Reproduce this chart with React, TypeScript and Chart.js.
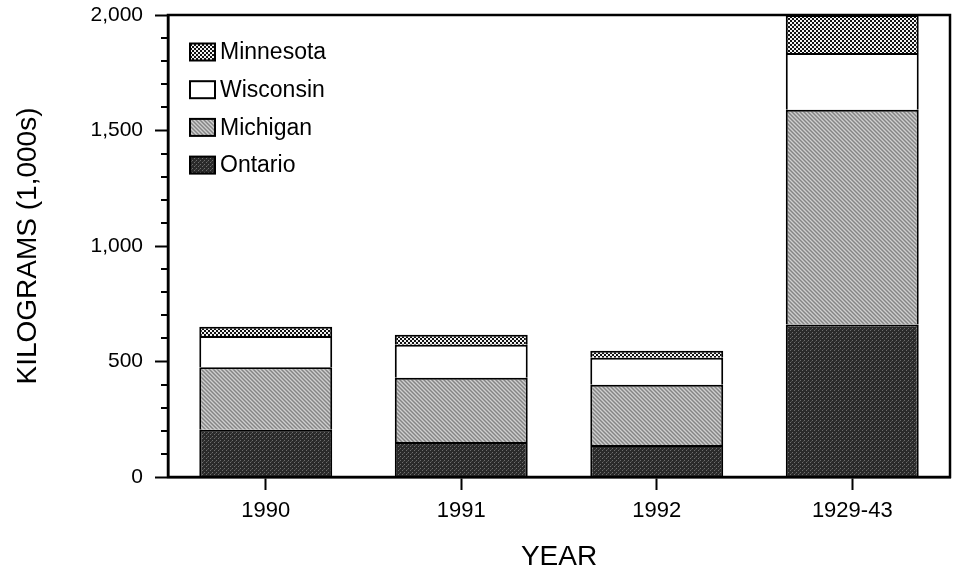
import React, { useEffect, useRef } from 'react';
import { Chart, registerables } from 'chart.js';

Chart.register(...registerables);

const categories = ['1990', '1991', '1992', '1929-43'];
const ontario = [205, 152, 139, 660];
const michigan = [270, 278, 260, 930];
const wisconsin = [135, 143, 117, 245];
const minnesota = [40, 43, 31, 165];
const seriesNames = ['Ontario', 'Michigan', 'Wisconsin', 'Minnesota'];
const yMin = 0;
const yMax = 2000;
const yMinorStep = 100;
const yMajorStep = 500;

const FONT = "'Liberation Sans', Arial, Helvetica, sans-serif";

function makePattern(kind: string): CanvasPattern | string {
  const c = document.createElement('canvas');
  c.width = 4;
  c.height = 4;
  const g = c.getContext('2d');
  if (!g) return '#888';
  const px = (x: number, y: number, col: string) => {
    g.fillStyle = col;
    g.fillRect(x, y, 1, 1);
  };
  if (kind === 'Minnesota') {
    g.fillStyle = '#111';
    g.fillRect(0, 0, 4, 4);
    for (let x = 0; x < 4; x++)
      for (let y = 0; y < 4; y++)
        if (((x >> 1) + (y >> 1)) % 2 === 0) px(x, y, '#f2f2f2');
  } else if (kind === 'Wisconsin') {
    g.fillStyle = '#ffffff';
    g.fillRect(0, 0, 4, 4);
  } else if (kind === 'Michigan') {
    g.fillStyle = '#a8a8a8';
    g.fillRect(0, 0, 4, 4);
    [[0, 0], [1, 1], [2, 2], [3, 3]].forEach(([x, y]) => px(x, y, '#858585'));
    [[2, 0], [3, 1], [0, 2], [1, 3]].forEach(([x, y]) => px(x, y, '#cfcfcf'));
  } else {
    g.fillStyle = '#2a2a2a';
    g.fillRect(0, 0, 4, 4);
    [[0, 0], [2, 2]].forEach(([x, y]) => px(x, y, '#6e6e6e'));
    [[3, 1]].forEach(([x, y]) => px(x, y, '#4a4a4a'));
  }
  const p = g.createPattern(c, 'repeat');
  return p || '#888';
}

export default function App() {
  const ref = useRef<HTMLCanvasElement | null>(null);

  useEffect(() => {
    const canvas = ref.current;
    if (!canvas) return;
    const seriesValues = [ontario, michigan, wisconsin, minnesota];
    const fills = seriesNames.map((n) => makePattern(n));

    const frame = {
      id: 'frame',
      afterDraw(chart: any) {
        const { ctx, chartArea } = chart;
        const ys = chart.scales.y;
        ctx.save();
        ctx.strokeStyle = '#000';
        ctx.lineWidth = 2;
        ys.ticks.forEach((t: any) => {
          if (t.value % yMajorStep !== 0) {
            const py = Math.round(ys.getPixelForValue(t.value));
            ctx.beginPath();
            ctx.moveTo(chartArea.left - 7, py);
            ctx.lineTo(chartArea.left, py);
            ctx.stroke();
          }
        });
        ctx.lineWidth = 2.5;
        ctx.strokeRect(
          chartArea.left,
          chartArea.top,
          chartArea.right - chartArea.left,
          chartArea.bottom - chartArea.top
        );
        ctx.restore();
      },
    };

    const legendInside = {
      id: 'legendInside',
      afterDatasetsDraw(chart: any) {
        const { ctx } = chart;
        const ds = chart.data.datasets;
        const boxX = 190;
        const boxW = 25;
        const boxH = 17;
        const firstY = 52;
        const gap = 37.7;
        ctx.save();
        ctx.font = `23px ${FONT}`;
        ctx.textBaseline = 'middle';
        ctx.textAlign = 'left';
        for (let k = 0; k < ds.length; k++) {
          const d = ds[ds.length - 1 - k];
          const cy = firstY + k * gap;
          ctx.fillStyle = d.backgroundColor;
          ctx.fillRect(boxX, cy - boxH / 2, boxW, boxH);
          ctx.strokeStyle = '#000';
          ctx.lineWidth = 2;
          ctx.strokeRect(boxX, cy - boxH / 2, boxW, boxH);
          ctx.fillStyle = '#000';
          ctx.fillText(d.label, boxX + boxW + 5, cy + 1);
        }
        ctx.restore();
      },
    };

    const chart = new Chart(canvas, {
      type: 'bar',
      data: {
        labels: categories,
        datasets: seriesNames.map((n, i) => ({
          label: n,
          data: seriesValues[i],
          backgroundColor: fills[i] as any,
          borderColor: '#000',
          borderWidth: 2,
          categoryPercentage: 1,
          barPercentage: 0.68,
        })),
      },
      options: {
        responsive: false,
        animation: false,
        layout: { padding: { left: 0, top: 15, right: 3, bottom: 0 } },
        plugins: {
          legend: { display: false },
          tooltip: { enabled: false },
        },
        scales: {
          x: {
            stacked: true,
            border: { display: true, color: '#000', width: 2.5 },
            grid: {
              offset: false,
              drawOnChartArea: false,
              drawTicks: true,
              tickLength: 13,
              tickWidth: 2,
              tickColor: '#000',
            },
            ticks: {
              color: '#000',
              font: { family: FONT, size: 22 },
              padding: 8,
              maxRotation: 0,
            },
            title: {
              display: true,
              text: 'YEAR',
              color: '#000',
              font: { family: FONT, size: 28, lineHeight: 1 },
              padding: { top: 0, bottom: 0 },
            },
            afterFit(scale: any) {
              scale.height = 94;
              scale.paddingLeft = 0;
              scale.paddingRight = 0;
            },
          },
          y: {
            stacked: true,
            min: yMin,
            max: yMax,
            border: { display: true, color: '#000', width: 2.5 },
            grid: {
              drawOnChartArea: false,
              drawTicks: true,
              tickLength: 13,
              tickWidth: 2,
              tickColor: (c: any) =>
                c.tick && c.tick.value % yMajorStep === 0 ? '#000' : 'rgba(0,0,0,0)',
            },
            ticks: {
              stepSize: yMinorStep,
              autoSkip: false,
              color: '#000',
              padding: 12,
              font: { family: FONT, size: 21 },
              callback: (v: any) =>
                Number(v) % yMajorStep === 0 ? Number(v).toLocaleString('en-US') : '',
            },
            title: {
              display: true,
              text: 'KILOGRAMS (1,000s)',
              color: '#000',
              font: { family: FONT, size: 28, lineHeight: 1 },
              padding: { top: 14, bottom: 0 },
            },
            afterFit(scale: any) {
              scale.width = 168;
              scale.paddingTop = 0;
              scale.paddingBottom = 0;
            },
          },
        },
      },
      plugins: [legendInside, frame],
    });

    return () => chart.destroy();
  }, []);

  return (
    <div style={{ position: 'fixed', left: 0, top: 0, width: 953, height: 571, background: '#fff' }}>
      <canvas ref={ref} width={953} height={571} style={{ display: 'block' }} />
    </div>
  );
}
